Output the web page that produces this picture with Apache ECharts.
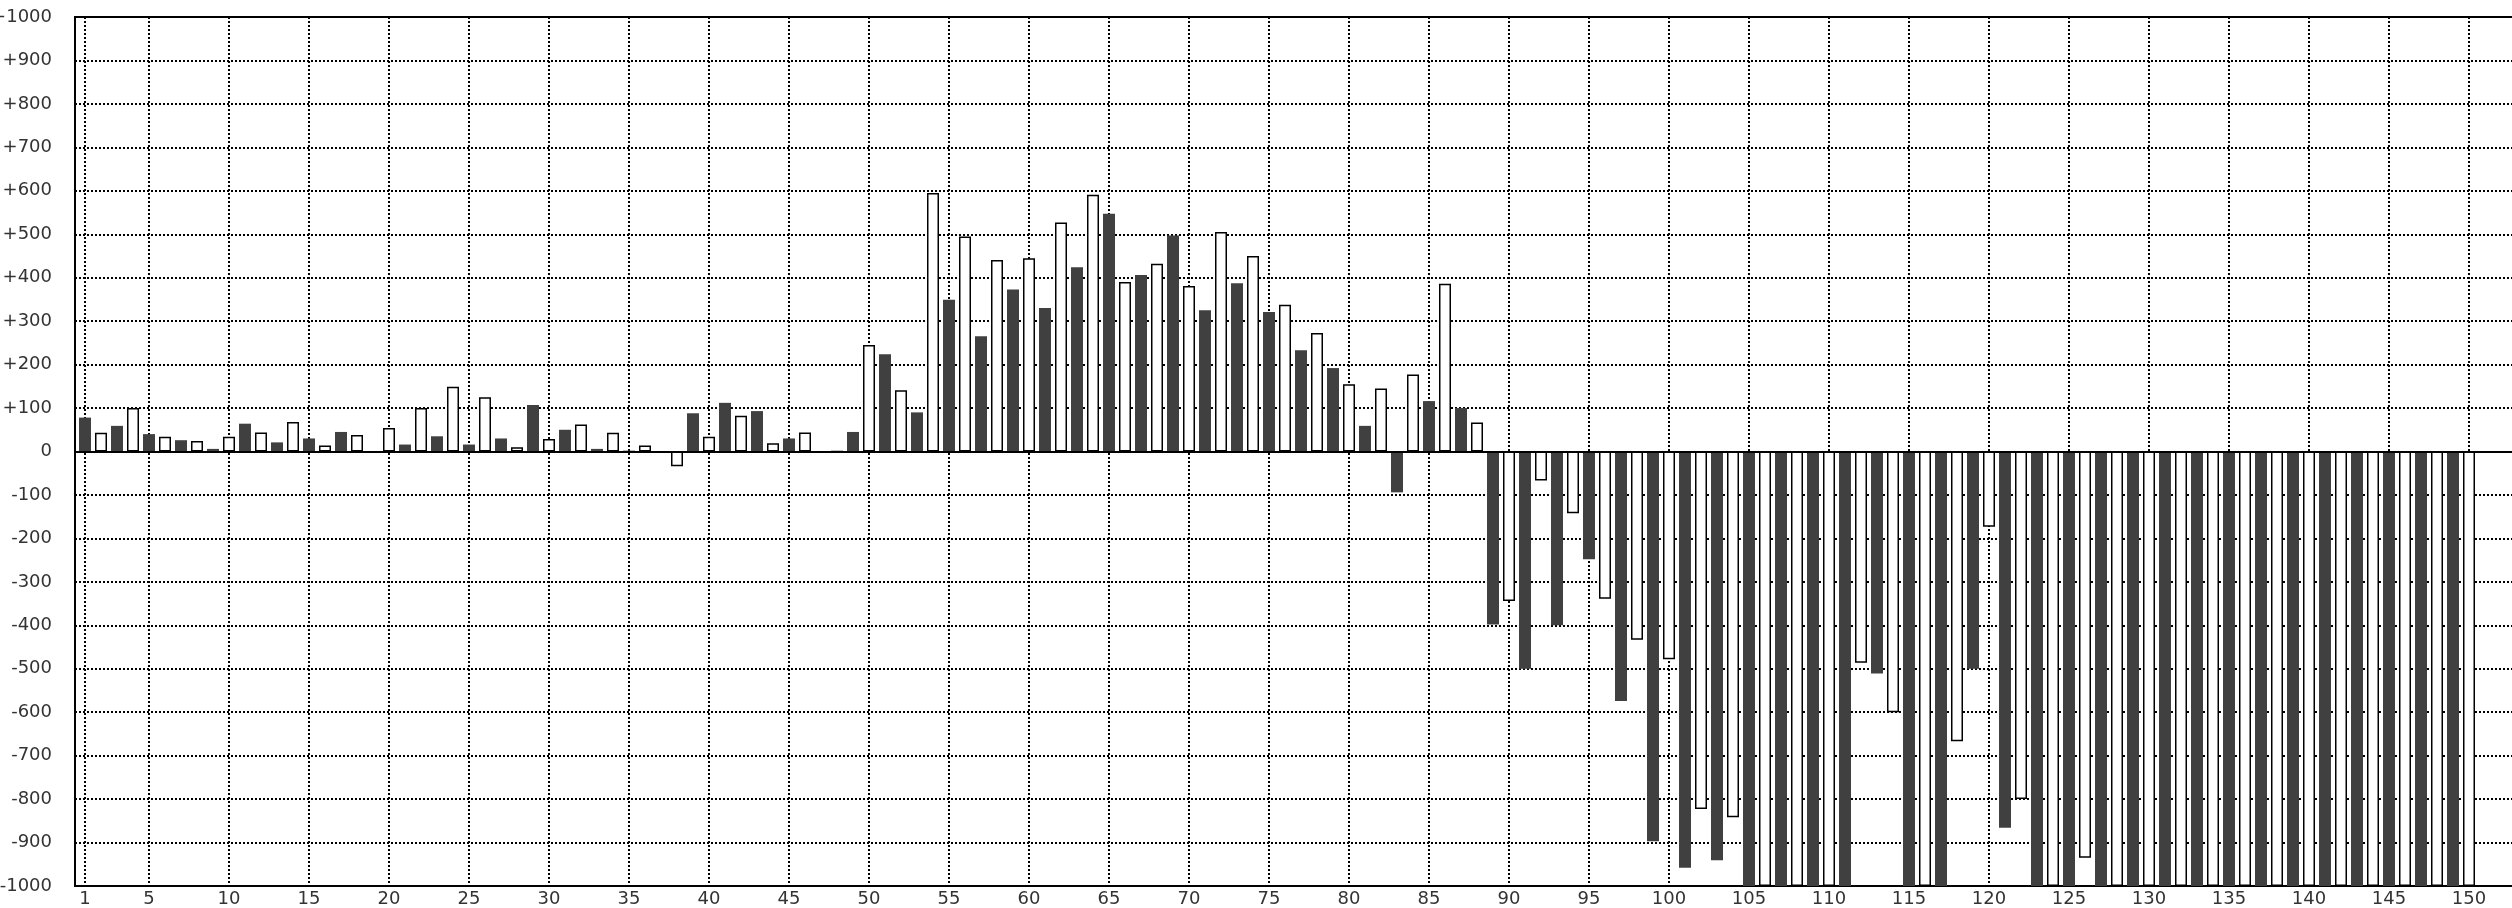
<!DOCTYPE html>
<html>
<head>
<meta charset="utf-8">
<script src="https://cdn.jsdelivr.net/npm/echarts@6/dist/echarts.min.js"></script>
<style>
html,body{margin:0;padding:0;background:#fff;}
#chart{width:2512px;height:908px;}
</style>
</head>
<body>
<div id="chart"></div>
<script>
// categories 1..150
const categories = [
  1,2,3,4,5,6,7,8,9,10,11,12,13,14,15,16,17,18,19,20,
  21,22,23,24,25,26,27,28,29,30,31,32,33,34,35,36,37,38,39,40,
  41,42,43,44,45,46,47,48,49,50,51,52,53,54,55,56,57,58,59,60,
  61,62,63,64,65,66,67,68,69,70,71,72,73,74,75,76,77,78,79,80,
  81,82,83,84,85,86,87,88,89,90,91,92,93,94,95,96,97,98,99,100,
  101,102,103,104,105,106,107,108,109,110,111,112,113,114,115,116,117,118,119,120,
  121,122,123,124,125,126,127,128,129,130,131,132,133,134,135,136,137,138,139,140,
  141,142,143,144,145,146,147,148,149,150
];

// values per category
const values = [
  78, 43, 59, 100, 40, 34, 26, 24, 6, 34,
  64, 44, 21, 68, 30, 14, 45, 38, 0, 54,
  16, 100, 35, 149, 16, 125, 30, 10, 107, 29,
  50, 62, 6, 43, 2, 14, 0, -34, 88, 34,
  112, 82, 93, 19, 30, 44, 0, 0, 45, 245,
  224, 141, 90, 595, 349, 495, 265, 441, 373, 445,
  330, 527, 424, 591, 547, 390, 406, 432, 497, 381,
  325, 505, 387, 450, 321, 338, 233, 273, 192, 155,
  59, 145, -94, 177, 116, 386, 100, 67, -398, -344,
  -500, -67, -400, -142, -248, -339, -574, -433, -897, -478,
  -958, -823, -941, -842, -1000, -1000, -1000, -1000, -1000, -1000,
  -1000, -486, -511, -600, -1000, -1000, -1000, -667, -500, -173,
  -866, -800, -1000, -1000, -1000, -935, -1000, -1000, -1000, -1000,
  -1000, -1000, -1000, -1000, -1000, -1000, -1000, -1000, -1000, -1000,
  -1000, -1000, -1000, -1000, -1000, -1000, -1000, -1000, -1000, -1000
];

// x tick labels
const xTickValues = [1, 5, 10, 15, 20, 25, 30, 35, 40, 45, 50, 55, 60, 65, 70, 75,
  80, 85, 90, 95, 100, 105, 110, 115, 120, 125, 130, 135, 140, 145, 150];

// y axis range / ticks
const yMin = -1000, yMax = 1000, yStep = 100;

const darkStyle = { color: '#404040', borderWidth: 0 };
const whiteStyle = { color: '#ffffff', borderColor: '#000000', borderWidth: 1.5 };

const chart = echarts.init(document.getElementById('chart'), null, { renderer: 'canvas' });

const gridLeft = 75, gridRight = -2;
const plotWidth = 2512 - gridLeft - gridRight;
const xMin = 0.375;
const xMax = xMin + plotWidth / 16;

const dotted = { color: '#000', width: 2, type: [2, 2] };

chart.setOption({
  animation: false,
  backgroundColor: '#fff',
  grid: {
    left: gridLeft, right: gridRight, top: 17, bottom: 22,
    containLabel: false,
    outerBoundsMode: 'none',
    show: true, borderColor: '#000', borderWidth: 2, backgroundColor: 'transparent'
  },
  xAxis: {
    type: 'value',
    min: xMin,
    max: xMax,
    position: 'bottom',
    axisLine: { show: false, onZero: false },
    axisTick: { show: false, customValues: xTickValues },
    axisLabel: {
      customValues: xTickValues,
      fontFamily: 'DejaVu Sans', fontSize: 18, color: '#333', margin: 4
    },
    splitLine: { show: true, lineStyle: dotted }
  },
  yAxis: {
    type: 'value',
    min: yMin, max: yMax, interval: yStep,
    axisLine: { show: false },
    axisTick: { show: false },
    axisLabel: {
      fontFamily: 'DejaVu Sans', fontSize: 18, color: '#333', margin: 23,
      formatter: function (v) { return v > 0 ? '+' + v : String(v); }
    },
    splitLine: { show: true, lineStyle: dotted }
  },
  series: [{
    type: 'bar',
    barWidth: 12,
    data: values.map(function (v, i) {
      return { value: [categories[i], v], itemStyle: (i % 2 === 0) ? darkStyle : whiteStyle };
    }),
    markLine: {
      silent: true,
      symbol: ['none', 'none'],
      label: { show: false },
      lineStyle: { color: '#000', width: 2, type: 'solid' },
      data: [{ yAxis: 0 }]
    }
  }]
});
</script>
</body>
</html>
